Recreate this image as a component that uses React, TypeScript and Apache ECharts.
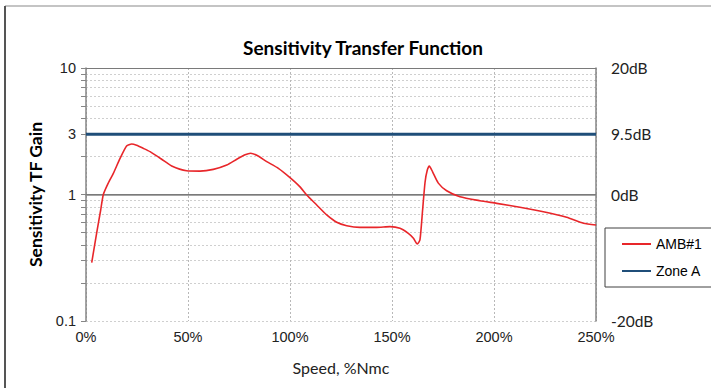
import React, { useEffect, useRef } from "react";
import * as echarts from "echarts";

const speedPct = [
  2.8, 5.2, 7.2, 8.5, 10.9, 13.4, 16.7, 19.9, 22.4, 24.8, 28, 31.4, 37.1, 42, 49.3, 55.9, 62.4, 69,
  73.9, 78, 80.7, 83.7, 88.6, 94.3, 100, 104.9, 108.2, 113.1, 118, 122.9, 127.8, 134.3, 142.5, 149,
  153.9, 158, 160.5, 162.4, 163.7, 165, 166.2, 167.3, 168.3, 169.9, 172.7, 176.8, 183.3, 193.1,
  201.3, 212.7, 224.2, 235.6, 243.8, 250,
];
const amb1Gain = [
  0.289, 0.493, 0.754, 1.0, 1.23, 1.47, 1.93, 2.42, 2.51, 2.45, 2.32, 2.18, 1.9, 1.68, 1.54, 1.53,
  1.58, 1.71, 1.9, 2.06, 2.12, 2.04, 1.82, 1.61, 1.36, 1.15, 0.99, 0.826, 0.689, 0.603, 0.567, 0.55,
  0.55, 0.557, 0.541, 0.493, 0.451, 0.406, 0.437, 0.754, 1.25, 1.56, 1.68, 1.51, 1.23, 1.07, 0.96,
  0.893, 0.851, 0.792, 0.731, 0.66, 0.592, 0.574,
];
const zoneASpeed = [0, 250];
const zoneAGain = [3, 3];

const gainLabels = [0.1, 1, 3, 10];
const gainGrid = [0.1, 0.2, 0.3, 0.4, 0.5, 0.6, 0.7, 0.8, 0.9, 1, 2, 3, 4, 5, 6, 7, 8, 9, 10];
const majorGain = [1, 10];
const xTicks = [0, 50, 100, 150, 200, 250];

const lg = (v: number) => Math.log10(v);

export default function App() {
  const ref = useRef<HTMLDivElement>(null);
  useEffect(() => {
    if (!ref.current) return;
    const chart = echarts.init(ref.current, null, { renderer: "svg" });
    const arial = "'Liberation Sans', Arial, sans-serif";
    const cal = "Lato, 'Open Sans', sans-serif";
    chart.setOption({
      animation: false,
      backgroundColor: "#ffffff",
      title: {
        text: "Sensitivity Transfer Function",
        left: 358,
        textAlign: "center",
        top: 33,
        textStyle: { fontFamily: cal, fontWeight: "bold", fontSize: 19, color: "#000" },
      },
      graphic: [
        { type: "line", shape: { x1: 5, y1: 6, x2: 711, y2: 6 }, style: { stroke: "#c4c4c4", lineWidth: 2 } },
        { type: "line", shape: { x1: 5, y1: 6, x2: 5, y2: 388 }, style: { stroke: "#555", lineWidth: 2 } },
      ],
      grid: { left: 86, right: 115, top: 68, bottom: 67, containLabel: false },
      legend: {
        orient: "vertical",
        left: 605,
        top: 228,
        padding: [9, 60, 9, 17],
        itemGap: 13,
        itemWidth: 29,
        itemHeight: 2,
        icon: "rect",
        borderColor: "#404040",
        borderWidth: 1,
        textStyle: { fontFamily: arial, fontSize: 14, color: "#000" },
        data: ["AMB#1", "Zone A"],
      },
      xAxis: {
        type: "value",
        min: 0,
        max: 250,
        interval: 50,
        name: "Speed, %Nmc",
        nameLocation: "middle",
        nameGap: 38,
        nameTextStyle: { fontFamily: cal, fontSize: 16, color: "#222" },
        axisLine: { lineStyle: { color: "#868686", width: 1.5 } },
        axisTick: { show: false },
        axisLabel: {
          formatter: "{value}%",
          fontFamily: arial,
          fontSize: 14.5,
          color: "#222",
          margin: 8,
          customValues: xTicks,
        },
        splitLine: { show: true, lineStyle: { color: "#b8b8b8", type: [2, 2], width: 1 } },
      },
      yAxis: [
        {
          type: "value",
          min: -1,
          max: 1,
          name: "Sensitivity TF Gain",
          nameLocation: "middle",
          nameGap: 41,
          nameRotate: 90,
          nameTextStyle: { fontFamily: cal, fontWeight: "bold", fontSize: 17.5, color: "#000" },
          axisLine: { show: true, onZero: false, lineStyle: { color: "#868686", width: 1.5 } },
          axisTick: {
            show: true,
            inside: false,
            length: 5,
            customValues: gainGrid.map(lg),
            lineStyle: { color: "#868686" },
          },
          axisLabel: {
            customValues: gainLabels.map(lg),
            formatter: (v: number) => {
              const g = Math.pow(10, v);
              return g < 0.5 ? "0.1" : String(Math.round(g));
            },
            fontFamily: arial,
            fontSize: 14.5,
            color: "#222",
            margin: 10,
          },
          splitLine: { show: true, lineStyle: { color: "#cfcfcf", type: [2, 2], width: 1 } },
        },
        {
          type: "value",
          min: -1,
          max: 1,
          position: "right",
          axisLine: { show: true, onZero: false, lineStyle: { color: "#868686", width: 1.5 } },
          axisTick: { show: false },
          splitLine: { show: false },
          axisLabel: {
            customValues: gainLabels.map(lg),
            formatter: (v: number) => `${Math.round(20 * v * 10) / 10}dB`,
            fontFamily: cal,
            fontSize: 15.5,
            color: "#222",
            margin: 15,
          },
        },
      ],
      series: [
        {
          name: "AMB#1",
          type: "line",
          yAxisIndex: 0,
          data: speedPct.map((x, i) => [x, lg(amb1Gain[i])]),
          showSymbol: false,
          symbol: "none",
          smooth: 0.2,
          lineStyle: { color: "#e8262a", width: 1.6 },
          itemStyle: { color: "#e8262a" },
          z: 5,
          markLine: {
            silent: true,
            symbol: "none",
            label: { show: false },
            lineStyle: { color: "#7a7a7a", type: "solid", width: 1 },
            data: majorGain.map((g) => ({ yAxis: lg(g) })),
            z: 2,
          },
        },
        {
          name: "Zone A",
          type: "line",
          yAxisIndex: 0,
          data: zoneASpeed.map((x, i) => [x, lg(zoneAGain[i])]),
          showSymbol: false,
          symbol: "none",
          lineStyle: { color: "#1f4e79", width: 3 },
          itemStyle: { color: "#1f4e79" },
          z: 4,
        },
      ],
    });
    return () => chart.dispose();
  }, []);
  return (
    <div
      ref={ref}
      style={{ position: "absolute", left: 0, top: 0, width: 711, height: 388 }}
    />
  );
}
